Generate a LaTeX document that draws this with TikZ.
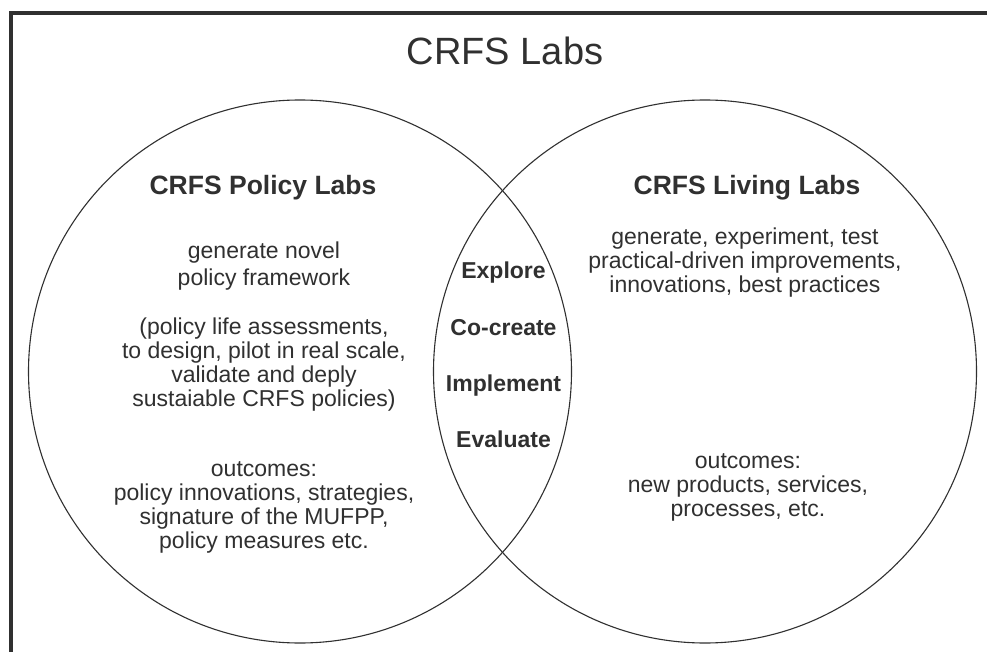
\documentclass[tikz,border=0pt]{standalone}
\usepackage{fontspec}
\setmainfont{Liberation Sans}
\usepackage{tikz}

\definecolor{ink}{HTML}{303030}

\begin{document}
\begin{tikzpicture}[x=1pt,y=-1pt,
  txt/.style={anchor=base,align=center,text=ink,inner sep=0pt,font=\fontsize{23}{23.8}\selectfont},
  head/.style={anchor=base,text=ink,inner sep=0pt,font=\fontsize{26.5}{30}\selectfont\bfseries},
  actword/.style={anchor=base,text=ink,inner sep=0pt,font=\fontsize{23}{26}\selectfont\bfseries}]
\useasboundingbox (0,0) rectangle (987,652);
\clip (0,0) rectangle (987,652);
\fill[white] (0,0) rectangle (987,652);
% frame, runs off the right and bottom edge
\draw[line width=4pt,ink] (10.5,13) rectangle (1000,700);
% the two labs
\draw[line width=1.1pt,ink] (300,371.5) circle (271.5pt);
\draw[line width=1.1pt,ink] (705,371.5) circle (271.5pt);
\node[anchor=base,text=ink,inner sep=0pt,font=\fontsize{38}{40}\selectfont] (title) at (505,65) {CRFS Labs};
% policy labs (multi-line texts sit on their last baseline)
\node[head] (polhead) at (263,195) {CRFS Policy Labs};
\node[txt] (polaim) at (264,285) {generate novel\\[3pt]policy framework};
\node[txt] (polhow) at (264,406) {(policy life assessments,\\to design, pilot in real scale,\\validate and deply\\sustaiable CRFS policies)};
\node[txt] (polout) at (264,548) {outcomes:\\policy innovations, strategies,\\signature of the MUFPP,\\policy measures etc.};
% living labs
\node[head] (livhead) at (747,195) {CRFS Living Labs};
\node[txt] (livaim) at (745,292) {generate, experiment, test\\practical-driven improvements,\\innovations, best practices};
\node[txt] (livout) at (748,516) {outcomes:\\new products, services,\\processes, etc.};
% shared steps in the overlap
\foreach \nm/\word/\yy in {explore/Explore/278,cocreate/Co-create/335,implement/Implement/391,evaluate/Evaluate/447}
  \node[actword] (\nm) at (503.5,\yy) {\word};
\end{tikzpicture}
\end{document}
